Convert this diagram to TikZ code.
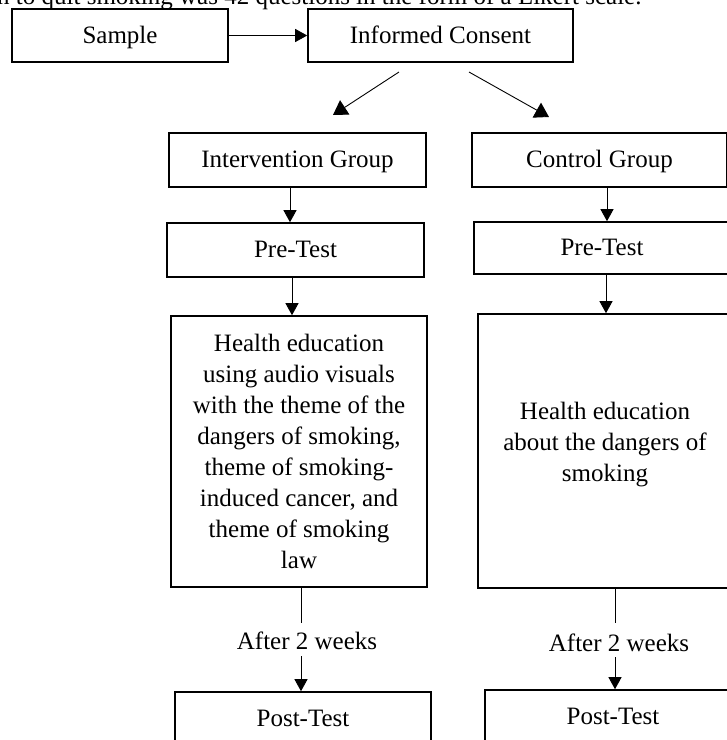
\documentclass[tikz,border=0pt]{standalone}
\usepackage{fontspec}
\setmainfont{Liberation Serif}
\usetikzlibrary{arrows.meta}
\begin{document}
\begin{tikzpicture}[x=1pt,y=-1pt,
  box/.style={draw, line width=1.6pt, rectangle, inner sep=0pt, align=center,
    font=\fontsize{25}{31}\selectfont},
  onebox/.style={box, text height=17pt, text depth=2pt},
  lbl/.style={inner sep=0pt, font=\fontsize{25}{31}\selectfont},
  arr/.style={line width=0.9pt, -{Triangle[length=12pt,width=13pt]}},
  diag/.style={line width=0.9pt, -{Triangle[length=14pt,width=17pt]}},
  plain/.style={line width=0.9pt}]
\useasboundingbox (0,0) rectangle (727,740);
\clip (0,0) rectangle (727,740);
\fill[white] (0,0) rectangle (727,740);

% cut-off text line at top
\node[lbl, anchor=base west] (top) at (-3,4) {n to quit smoking was 42 questions in the form of a Likert scale.};

% top row
\node[onebox, minimum width=216pt, minimum height=53pt] (sample) at (120,35.5) {Sample};
\node[onebox, minimum width=265pt, minimum height=53pt] (consent) at (440.5,35.5) {Informed Consent};
\draw[arr] (sample.east) -- (consent.west);

% diagonal arrows
\coordinate (d1s) at (399,72);
\coordinate (d1e) at (333,115);
\coordinate (d2s) at (469,72);
\coordinate (d2e) at (549,117);
\draw[diag] (d1s) -- (d1e);
\draw[diag] (d2s) -- (d2e);

% left column
\node[onebox, minimum width=257pt, minimum height=54pt] (igroup) at (297.5,160) {Intervention Group};
\node[onebox, minimum width=257pt, minimum height=54pt] (ipre) at (295.5,250) {Pre-Test};
\node[box, minimum width=256pt, minimum height=271pt] (ihealth) at (299,451.5)
  {Health education\\using audio visuals\\with the theme of the\\dangers of smoking,\\theme of smoking-\\induced cancer, and\\theme of smoking\\law};
\node[lbl, anchor=base] (iafter) at (307,649) {After 2 weeks};
\node[onebox, minimum width=256pt, minimum height=54pt] (ipost) at (303,719) {Post-Test};

\coordinate (ix1) at (290,0);
\coordinate (ix2) at (292,0);
\coordinate (ia1) at (301,623);
\coordinate (ia2) at (301,656);
\draw[arr] (igroup.south -| ix1) -- (ipre.north -| ix1);
\draw[arr] (ipre.south -| ix2) -- (ihealth.north -| ix2);
\draw[plain] (ihealth.south -| ia1) -- (ia1);
\draw[arr] (ia2) -- (ipost.north -| ia2);

% right column
\node[onebox, minimum width=255pt, minimum height=54pt] (cgroup) at (599.5,160) {Control Group};
\node[onebox, minimum width=256pt, minimum height=52pt] (cpre) at (602,248) {Pre-Test};
\node[box, minimum width=254pt, minimum height=274pt] (chealth) at (605,451)
  {Health education\\about the dangers of\\smoking\rule[-18pt]{0pt}{18pt}};
\node[lbl, anchor=base] (cafter) at (619,651) {After 2 weeks};
\node[onebox, minimum width=256pt, minimum height=54pt] (cpost) at (613,717) {Post-Test};

\coordinate (cx1) at (607,0);
\coordinate (cx2) at (606,0);
\coordinate (ca1) at (615,623);
\coordinate (ca2) at (615,657);
\draw[arr] (cgroup.south -| cx1) -- (cpre.north -| cx1);
\draw[arr] (cpre.south -| cx2) -- (chealth.north -| cx2);
\draw[plain] (chealth.south -| ca1) -- (ca1);
\draw[arr] (ca2) -- (cpost.north -| ca2);
\end{tikzpicture}
\end{document}
